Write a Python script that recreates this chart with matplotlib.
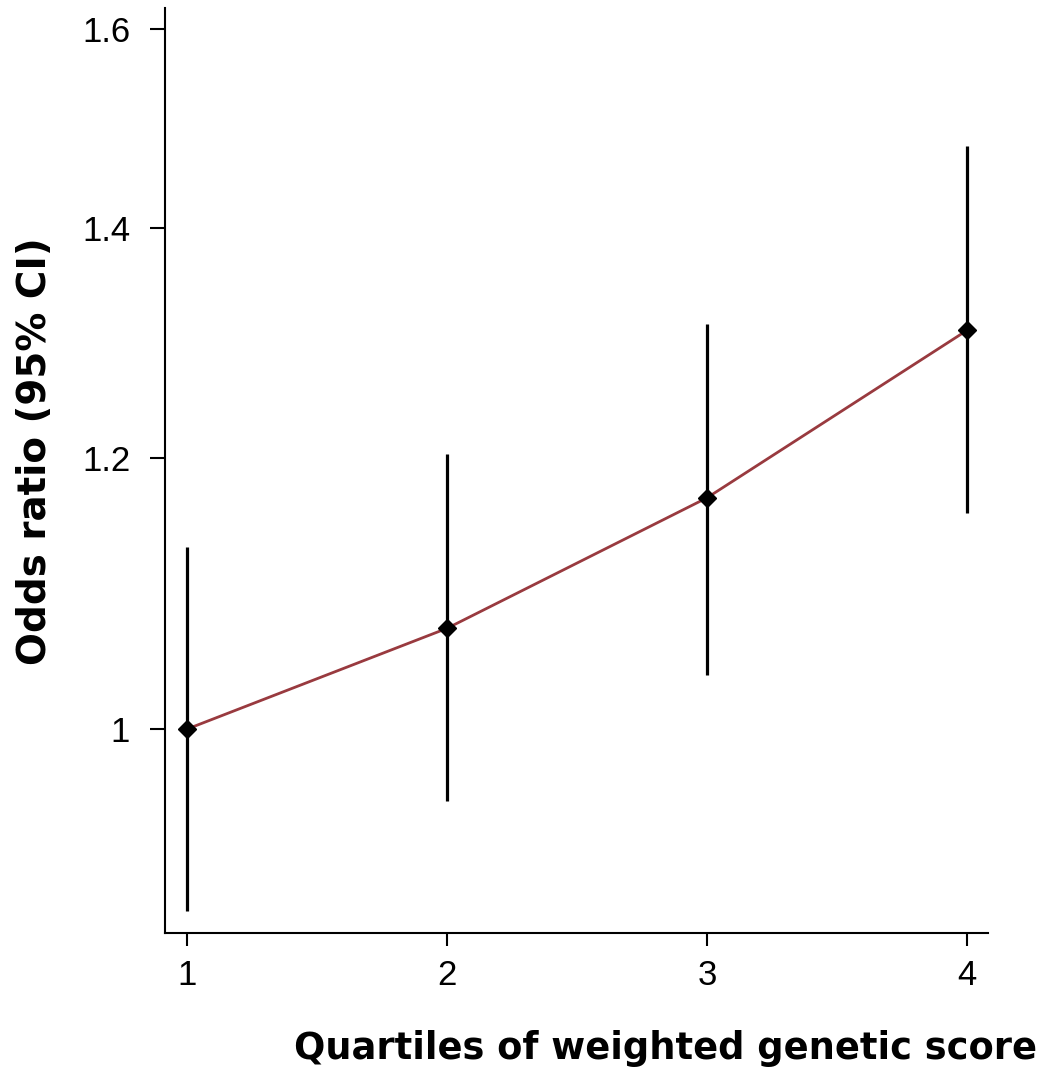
import matplotlib
matplotlib.use("Agg")
import matplotlib.pyplot as plt
from matplotlib.ticker import FixedLocator, FixedFormatter, NullLocator

quartiles = [1, 2, 3, 4]
odds_ratio = [1.00, 1.07, 1.168, 1.307]
ci_lower = [0.885, 0.953, 1.037, 1.156]
ci_upper = [1.130, 1.203, 1.313, 1.479]
y_ticks = [1.0, 1.2, 1.4, 1.6]
y_tick_labels = ["1", "1.2", "1.4", "1.6"]

fig = plt.figure(figsize=(10.44, 10.69), dpi=100)
ax = fig.add_axes([0.158, 0.1272, 0.788, 0.8653])

ax.set_yscale("log")
ax.vlines(quartiles, ci_lower, ci_upper, color="black", linewidth=2.3, zorder=2)
ax.plot(quartiles, odds_ratio, color="#993a3f", linewidth=2.0, zorder=3)
ax.plot(quartiles, odds_ratio, linestyle="none", marker="D", markersize=9,
        color="black", zorder=4)

ax.set_xlim(0.915, 4.08)
ax.set_ylim(0.872, 1.623)

ax.yaxis.set_major_locator(FixedLocator(y_ticks))
ax.yaxis.set_major_formatter(FixedFormatter(y_tick_labels))
ax.yaxis.set_minor_locator(NullLocator())
ax.set_xticks(quartiles)
ax.set_xticklabels([str(q) for q in quartiles])

for side in ("top", "right"):
    ax.spines[side].set_visible(False)
for side in ("left", "bottom"):
    ax.spines[side].set_linewidth(1.5)

ax.tick_params(axis="y", direction="out", length=11, width=1.5,
               labelsize=25, pad=14)
ax.tick_params(axis="x", direction="out", length=9, width=1.5,
               labelsize=25, pad=10)
for lab in ax.get_xticklabels() + ax.get_yticklabels():
    lab.set_fontfamily("Liberation Sans")

fig.text(0.993, 0.0095, "Quartiles of weighted genetic score",
         ha="right", va="baseline", fontsize=26.5, fontweight="bold",
         family="DejaVu Sans")
fig.text(0.034, 0.578, "Odds ratio (95% CI)", ha="center", va="center",
         rotation=90, fontsize=28, fontweight="bold", family="DejaVu Sans")

fig.savefig("out.png", dpi=100, facecolor="white")
